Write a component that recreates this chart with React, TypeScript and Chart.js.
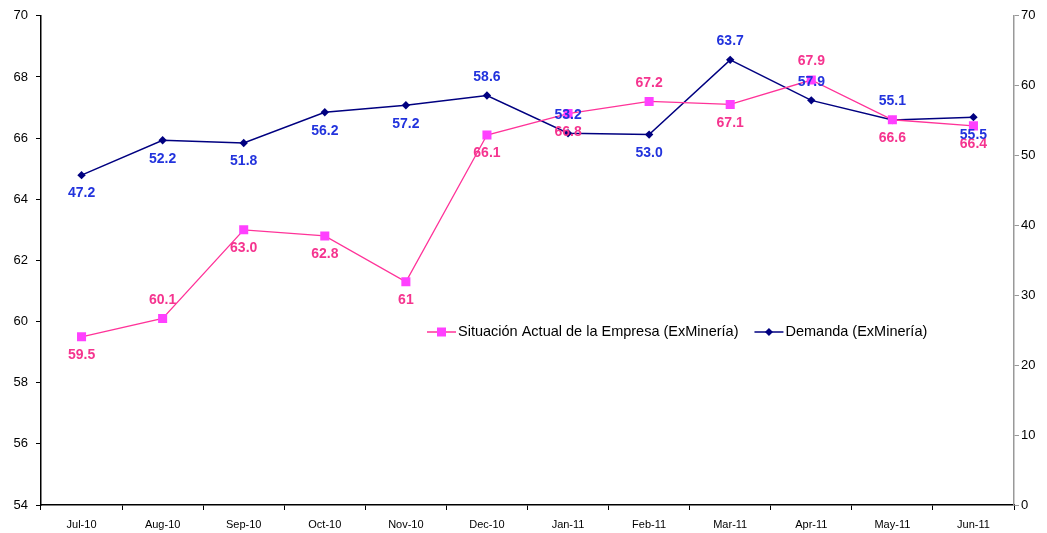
import React, { useEffect, useRef } from "react";
import { Chart, registerables } from "chart.js";

Chart.register(...registerables);

const categories = ["Jul-10", "Aug-10", "Sep-10", "Oct-10", "Nov-10", "Dec-10", "Jan-11", "Feb-11", "Mar-11", "Apr-11", "May-11", "Jun-11"];
const situacionValues = [59.5, 60.1, 63.0, 62.8, 61.3, 66.1, 66.8, 67.2, 67.1, 67.9, 66.6, 66.4];
const situacionLabels = ["59.5", "60.1", "63.0", "62.8", "61", "66.1", "66.8", "67.2", "67.1", "67.9", "66.6", "66.4"];
const demandaValues = [47.2, 52.2, 51.8, 56.2, 57.2, 58.6, 53.2, 53.0, 63.7, 57.9, 55.1, 55.5];
const demandaLabels = ["47.2", "52.2", "51.8", "56.2", "57.2", "58.6", "53.2", "53.0", "63.7", "57.9", "55.1", "55.5"];
const situacionLabelSide = [1, -1, 1, 1, 1, 1, 1, -1, 1, -1, 1, 1];
const demandaLabelSide = [1, 1, 1, 1, 1, -1, -1, 1, -1, -1, -1, 1];
const leftTicks = [54, 56, 58, 60, 62, 64, 66, 68, 70];
const rightTicks = [0, 10, 20, 30, 40, 50, 60, 70];

const FONT = '"Liberation Sans", Arial, sans-serif';
const PINK_LINE = "#FF3399";
const PINK_MARK = "#FF40FF";
const PINK_TEXT = "#F5348F";
const BLUE_LINE = "#000080";
const BLUE_TEXT = "#2233DD";

const labelPlugin = {
  id: "pointLabels",
  afterDatasetsDraw(chart: any) {
    const ctx = chart.ctx;
    const specs = [
      { idx: 0, labels: situacionLabels, sides: situacionLabelSide, color: PINK_TEXT },
      { idx: 1, labels: demandaLabels, sides: demandaLabelSide, color: BLUE_TEXT },
    ];
    ctx.save();
    ctx.font = `bold 14px ${FONT}`;
    ctx.textAlign = "center";
    ctx.textBaseline = "middle";
    for (const s of specs) {
      const meta = chart.getDatasetMeta(s.idx);
      ctx.fillStyle = s.color;
      meta.data.forEach((pt: any, i: number) => {
        ctx.fillText(s.labels[i], pt.x, pt.y + s.sides[i] * 18.5);
      });
    }
    ctx.restore();
  },
  afterDraw(chart: any) {
    const ctx = chart.ctx;
    ctx.save();
    ctx.font = `14.5px ${FONT}`;
    ctx.textBaseline = "middle";
    ctx.textAlign = "left";
    const y = 332;
    let x = 427;
    chart.data.datasets.forEach((ds: any, i: number) => {
      ctx.strokeStyle = ds.borderColor;
      ctx.lineWidth = 1.5;
      ctx.beginPath();
      ctx.moveTo(x, y);
      ctx.lineTo(x + 29, y);
      ctx.stroke();
      ctx.fillStyle = ds.pointBackgroundColor;
      ctx.beginPath();
      if (i === 0) {
        ctx.rect(x + 10, y - 4.5, 9, 9);
      } else {
        ctx.moveTo(x + 14.5, y - 4);
        ctx.lineTo(x + 18.5, y);
        ctx.lineTo(x + 14.5, y + 4);
        ctx.lineTo(x + 10.5, y);
        ctx.closePath();
      }
      ctx.fill();
      ctx.fillStyle = "#000";
      ctx.fillText(ds.label, x + 31, y);
      x += 31 + ctx.measureText(ds.label).width + 16;
    });
    ctx.restore();
  },
};

export default function App() {
  const ref = useRef<HTMLCanvasElement>(null);
  useEffect(() => {
    document.body.style.margin = "0";
    const chart = new Chart(ref.current!, {
      type: "line",
      data: {
        labels: categories,
        datasets: [
          {
            label: "Situación Actual de la Empresa (ExMinería)",
            data: situacionValues,
            yAxisID: "y",
            borderColor: PINK_LINE,
            borderWidth: 1.3,
            pointStyle: "rect",
            pointRadius: 6.4,
            pointBackgroundColor: PINK_MARK,
            pointBorderColor: PINK_MARK,
            pointBorderWidth: 0,
            tension: 0,
          },
          {
            label: "Demanda (ExMinería)",
            data: demandaValues,
            yAxisID: "y2",
            borderColor: BLUE_LINE,
            borderWidth: 1.5,
            pointStyle: "rectRot",
            pointRadius: 4.2,
            pointBackgroundColor: BLUE_LINE,
            pointBorderColor: BLUE_LINE,
            pointBorderWidth: 0,
            tension: 0,
          },
        ],
      },
      options: {
        animation: false,
        responsive: false,
        layout: { padding: { top: 15, left: 0, right: 0, bottom: 0 } },
        plugins: { legend: { display: false }, tooltip: { enabled: false } },
        scales: {
          x: {
            offset: true,
            grid: { display: true, drawOnChartArea: false, drawTicks: true, tickLength: 5, color: "#000", offset: true },
            border: { color: "#000", width: 1.5 },
            ticks: { color: "#000", font: { size: 11, family: FONT }, padding: 8, maxRotation: 0 },
            afterFit: (s: any) => { s.height = 28; },
          },
          y: {
            position: "left",
            min: 54,
            max: 70,
            afterBuildTicks: (s: any) => { s.ticks = leftTicks.map((v) => ({ value: v })); },
            grid: { display: true, drawOnChartArea: false, drawTicks: true, tickLength: 5, color: "#000" },
            border: { color: "#000", width: 1.5 },
            ticks: { color: "#000", font: { size: 13, family: FONT }, padding: 8 },
            afterFit: (s: any) => { s.width = 41; },
          },
          y2: {
            position: "right",
            min: 0,
            max: 70,
            afterBuildTicks: (s: any) => { s.ticks = rightTicks.map((v) => ({ value: v })); },
            grid: { display: true, drawOnChartArea: false, drawTicks: true, tickLength: 5, color: "#999" },
            border: { color: "#999", width: 1.5 },
            ticks: { color: "#000", font: { size: 13, family: FONT }, padding: 2 },
            afterFit: (s: any) => { s.width = 33; },
          },
        },
      },
      plugins: [labelPlugin],
    });
    return () => chart.destroy();
  }, []);
  return (
    <div style={{ position: "absolute", left: 0, top: 0, width: 1047, height: 533 }}>
      <canvas ref={ref} width={1047} height={533} style={{ width: 1047, height: 533 }} />
    </div>
  );
}
